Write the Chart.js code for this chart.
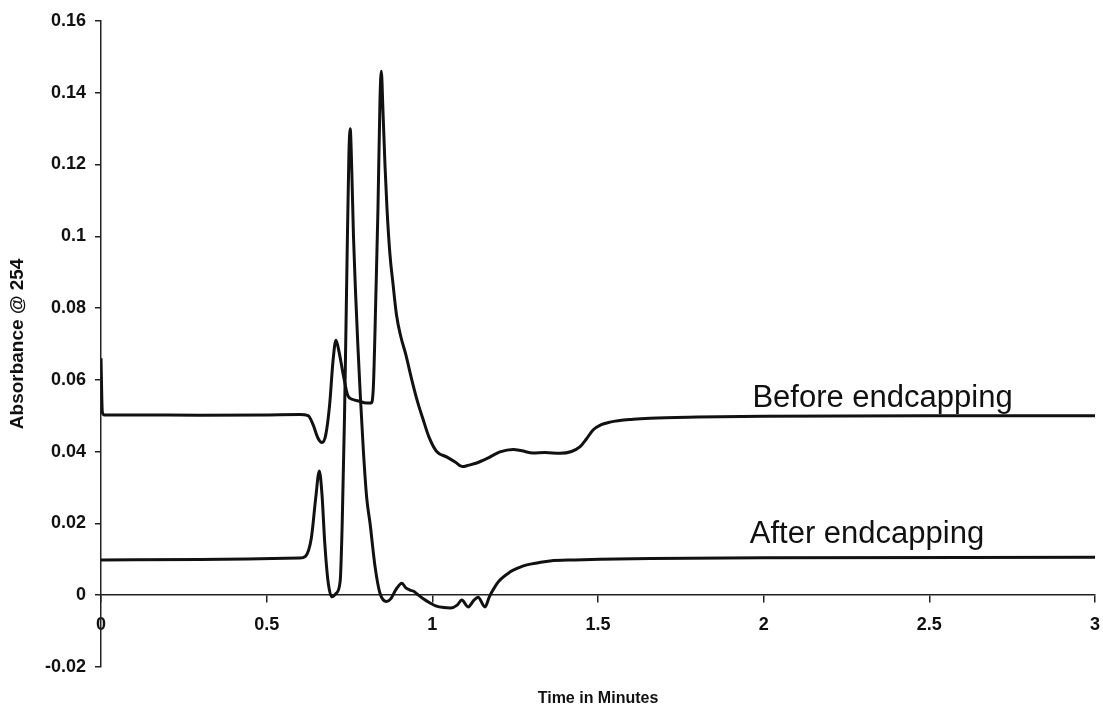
<!DOCTYPE html>
<html>
<head>
<meta charset="utf-8">
<script src="https://cdn.jsdelivr.net/npm/chart.js@4/dist/chart.umd.min.js"></script>
<style>
  html, body { margin: 0; padding: 0; background: #fff; }
  #wrap { width: 1103px; height: 708px; position: relative; }
</style>
</head>
<body>
<div id="wrap"><canvas id="c"></canvas></div>
<script>
// ---- Data ----
const beforeTime = [0, 0.004, 0.01, 0.1, 0.3, 0.5, 0.6, 0.625, 0.64, 0.655, 0.667, 0.678, 0.69, 0.70, 0.709, 0.718, 0.73, 0.745, 0.76, 0.78, 0.80, 0.815, 0.822, 0.83, 0.836, 0.842, 0.846, 0.851, 0.857, 0.863, 0.872, 0.881, 0.892, 0.905, 0.92, 0.938, 0.955, 0.972, 0.99, 1.013, 1.043, 1.07, 1.09, 1.11, 1.134, 1.164, 1.204, 1.244, 1.27, 1.304, 1.34, 1.385, 1.42, 1.445, 1.465, 1.485, 1.51, 1.536, 1.606, 1.657, 1.8, 2.0, 2.5, 3.0];
const beforeValue = [0.066, 0.051, 0.0502, 0.0502, 0.0501, 0.0502, 0.0503, 0.050, 0.0475, 0.0437, 0.0425, 0.0445, 0.053, 0.065, 0.071, 0.068, 0.062, 0.0556, 0.0545, 0.054, 0.0535, 0.0535, 0.058, 0.085, 0.108, 0.138, 0.146, 0.135, 0.120, 0.108, 0.095, 0.087, 0.078, 0.072, 0.067, 0.060, 0.054, 0.049, 0.044, 0.040, 0.0385, 0.037, 0.0358, 0.0362, 0.0368, 0.038, 0.0399, 0.0406, 0.0402, 0.0396, 0.0397, 0.0395, 0.040, 0.0413, 0.0435, 0.046, 0.0475, 0.0482, 0.049, 0.0493, 0.0496, 0.0498, 0.050, 0.050];

const afterTime = [0, 0.3, 0.6, 0.617, 0.635, 0.648, 0.659, 0.667, 0.675, 0.685, 0.697, 0.71, 0.722, 0.728, 0.735, 0.742, 0.748, 0.752, 0.757, 0.762, 0.768, 0.775, 0.783, 0.792, 0.802, 0.812, 0.827, 0.842, 0.862, 0.875, 0.89, 0.908, 0.92, 0.932, 0.945, 0.954, 0.975, 0.993, 1.01, 1.035, 1.055, 1.075, 1.089, 1.108, 1.125, 1.138, 1.159, 1.172, 1.183, 1.2, 1.234, 1.26, 1.285, 1.32, 1.355, 1.43, 1.506, 1.66, 2.0, 3.0];
const afterValue = [0.0098, 0.0099, 0.0103, 0.0108, 0.016, 0.027, 0.0346, 0.028, 0.015, 0.004, -0.0005, 0.0005, 0.004, 0.02, 0.05, 0.09, 0.122, 0.130, 0.118, 0.100, 0.085, 0.070, 0.055, 0.040, 0.027, 0.020, 0.008, 0.0005, -0.0018, -0.001, 0.0015, 0.0033, 0.002, 0.0014, 0.001, 0.0003, -0.0012, -0.0022, -0.003, -0.0035, -0.0036, -0.0028, -0.0014, -0.0033, -0.0015, -0.0006, -0.0033, -0.0005, 0.0014, 0.0038, 0.0064, 0.0076, 0.0084, 0.009, 0.0095, 0.0098, 0.0100, 0.0102, 0.0104, 0.0105];

const seriesNames = ["Before endcapping", "After endcapping"];
const xTickValues = [0, 0.5, 1, 1.5, 2, 2.5, 3];
const yTickValues = [-0.02, 0, 0.02, 0.04, 0.06, 0.08, 0.1, 0.12, 0.14, 0.16];
const xTitle = "Time in Minutes";
const yTitle = "Absorbance @ 254";
// label anchors (data coordinates: time, absorbance)
const labelAnchors = [[1.966, 0.0524], [1.958, 0.0145]];

const toPoints = (xs, ys) => xs.map((x, i) => ({ x: x, y: ys[i] }));
const fmt = (v) => String(parseFloat(Number(v).toFixed(4)));

const INK = '#111';
const labelPlugin = {
  id: 'seriesLabels',
  afterDatasetsDraw(chart) {
    const ctx = chart.ctx, xs = chart.scales.x, ys = chart.scales.y;
    ctx.save();
    ctx.fillStyle = INK;
    ctx.font = '31px "Liberation Sans", Arial, sans-serif';
    ctx.textAlign = 'left';
    ctx.textBaseline = 'alphabetic';
    seriesNames.forEach((name, i) => {
      ctx.fillText(name, xs.getPixelForValue(labelAnchors[i][0]), ys.getPixelForValue(labelAnchors[i][1]));
    });
    ctx.restore();
  }
};

const tickFont = { family: '"Liberation Sans", Arial, sans-serif', size: 18, weight: 'bold' };

new Chart(document.getElementById('c'), {
  type: 'line',
  data: {
    datasets: [
      { label: seriesNames[0], data: toPoints(beforeTime, beforeValue) },
      { label: seriesNames[1], data: toPoints(afterTime, afterValue) }
    ]
  },
  options: {
    responsive: true,
    maintainAspectRatio: false,
    animation: false,
    devicePixelRatio: 1,
    layout: { padding: { top: 21, right: 8, bottom: 0, left: 0 } },
    elements: {
      line: { borderColor: INK, borderWidth: 3, cubicInterpolationMode: 'monotone', fill: false },
      point: { radius: 0, hoverRadius: 0 }
    },
    plugins: {
      legend: { display: false },
      tooltip: { enabled: false },
      title: {
        display: true,
        position: 'bottom',
        fullSize: false,
        text: xTitle,
        color: INK,
        font: { family: '"Liberation Sans", Arial, sans-serif', size: 16, weight: 'bold' },
        padding: { top: 22, bottom: 0 }
      }
    },
    scales: {
      x: {
        type: 'linear',
        position: { y: 0 },
        min: 0, max: 3,
        afterBuildTicks: (s) => { s.ticks = xTickValues.map(v => ({ value: v })); },
        afterFit: (s) => { s.height = 0; s.paddingLeft = 0; s.paddingRight = 0; },
        ticks: { color: INK, font: tickFont, padding: 12, maxRotation: 0, autoSkip: false, callback: fmt },
        grid: { drawOnChartArea: false, drawTicks: true, tickLength: 7, color: '#222', lineWidth: 1.5 },
        border: { display: true, color: '#222', width: 1.5 }
      },
      y: {
        type: 'linear',
        min: -0.02, max: 0.16,
        afterBuildTicks: (s) => { s.ticks = yTickValues.map(v => ({ value: v })); },
        afterFit: (s) => { s.width = 101; },
        ticks: { color: INK, font: tickFont, padding: 9, autoSkip: false, callback: fmt },
        grid: { drawOnChartArea: false, drawTicks: true, tickLength: 6, color: '#222', lineWidth: 1.5 },
        border: { display: true, color: '#222', width: 1.5 },
        title: {
          display: true, text: yTitle, color: INK,
          font: { family: '"Liberation Sans", Arial, sans-serif', size: 19, weight: 'bold' },
          padding: { top: 6, bottom: 0 }
        }
      }
    }
  },
  plugins: [labelPlugin]
});
</script>
</body>
</html>
